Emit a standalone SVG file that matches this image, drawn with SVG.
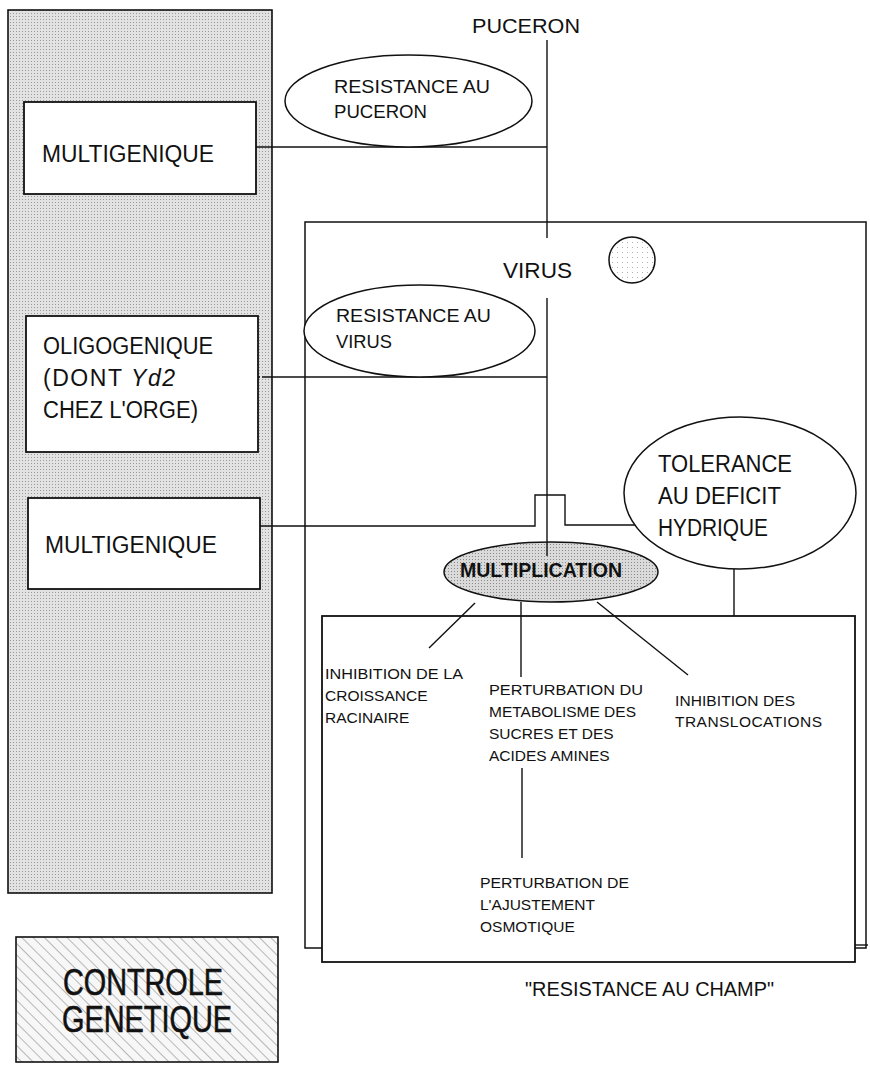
<svg xmlns="http://www.w3.org/2000/svg" width="870" height="1065" viewBox="0 0 870 1065">
<defs>
<pattern id="stipple" width="3" height="3" patternUnits="userSpaceOnUse">
<rect width="3" height="3" fill="#e2e2e2"/>
<rect x="1" y="1" width="1" height="1" fill="#9a9a9a"/>
</pattern>
<pattern id="stipple2" width="3" height="3" patternUnits="userSpaceOnUse">
<rect width="3" height="3" fill="#dadada"/>
<rect x="1" y="1" width="1" height="1" fill="#8a8a8a"/>
</pattern>
<pattern id="dots" width="5" height="5" patternUnits="userSpaceOnUse">
<rect width="5" height="5" fill="#ffffff"/>
<rect x="2" y="2" width="1" height="1" fill="#b0b0b0"/>
</pattern>
<pattern id="hatch" width="8" height="8" patternUnits="userSpaceOnUse" patternTransform="rotate(-45)">
<rect width="8" height="8" fill="#f7f7f7"/>
<line x1="0" y1="0" x2="0" y2="8" stroke="#777" stroke-width="1"/>
</pattern>
</defs>
<style>
text{font-family:"Liberation Sans",Arial,sans-serif;fill:#111}
.box{fill:#fff;stroke:#111;stroke-width:1.8}
.ell{fill:#fff;stroke:#111;stroke-width:1.5}
.ln{fill:none;stroke:#111;stroke-width:1.4}
.big{font-size:23px}
.med{font-size:19px}
.sm{font-size:15.5px}
</style>

<g id="panel-genetique">
<rect x="8" y="10" width="264" height="883" fill="url(#stipple)" stroke="#111" stroke-width="1.6"/>
</g>

<g id="champ-outer">
<rect x="305" y="222" width="561" height="726" fill="#fff" stroke="#111" stroke-width="1.5"/>
</g>
<g id="champ-inner">
<rect x="322" y="616" width="533" height="346" class="box" stroke-width="1.6"/>
</g>

<g id="connectors">
<line class="ln" x1="547" y1="40" x2="547" y2="238"/>
<line class="ln" x1="547" y1="298" x2="547" y2="556"/>
<line class="ln" x1="256" y1="147" x2="547" y2="147"/>
<line class="ln" x1="228" y1="377" x2="262" y2="377" stroke-dasharray="5 4"/>
<line class="ln" x1="262" y1="377" x2="547" y2="377"/>
<polyline class="ln" points="260,526 535,526 535,495 565,495 565,525 636,525"/>
<line class="ln" x1="734" y1="569" x2="734" y2="616"/>
<line class="ln" x1="521" y1="602" x2="521" y2="677"/>
<line class="ln" x1="475" y1="603" x2="429" y2="648" stroke-width="2"/>
<line class="ln" x1="597" y1="602" x2="688" y2="675" stroke-width="2"/>
<line class="ln" x1="522" y1="768" x2="522" y2="858"/>
<line class="ln" x1="855" y1="945" x2="868" y2="945"/>
</g>

<g id="multigenique-1">
<rect x="24" y="102" width="232" height="92" class="box"/>
<text x="42" y="162" class="big" textLength="172" lengthAdjust="spacingAndGlyphs">MULTIGENIQUE</text>
</g>

<g id="oligogenique">
<rect x="26" y="316" width="232" height="136" class="box"/>
<text x="43" y="354" class="big" textLength="170" lengthAdjust="spacingAndGlyphs">OLIGOGENIQUE</text>
<text x="43" y="386" class="big" textLength="132">(DONT <tspan font-style="italic">Yd2</tspan></text>
<text x="43" y="418" class="big" textLength="155" lengthAdjust="spacingAndGlyphs">CHEZ L'ORGE)</text>
</g>

<g id="multigenique-2">
<rect x="28" y="498" width="232" height="91" class="box"/>
<text x="45" y="553" class="big" textLength="172" lengthAdjust="spacingAndGlyphs">MULTIGENIQUE</text>
</g>

<g id="puceron">
<text x="472" y="33" style="font-size:21px" textLength="108" lengthAdjust="spacingAndGlyphs">PUCERON</text>
</g>

<g id="resistance-puceron">
<ellipse cx="408.5" cy="101" rx="123.5" ry="46" class="ell"/>
<text x="334" y="93" class="med" textLength="156" lengthAdjust="spacingAndGlyphs">RESISTANCE AU</text>
<text x="334" y="118" class="med" textLength="93" lengthAdjust="spacingAndGlyphs">PUCERON</text>
</g>

<g id="virus">
<rect x="500" y="252" width="76" height="30" fill="#fff"/>
<text x="503" y="278" style="font-size:22px" textLength="69" lengthAdjust="spacingAndGlyphs">VIRUS</text>
<circle cx="632" cy="260" r="23" fill="url(#dots)" stroke="#111" stroke-width="1.5"/>
</g>

<g id="resistance-virus">
<ellipse cx="419.5" cy="331" rx="115.5" ry="46" class="ell"/>
<text x="336" y="322" class="med" textLength="155" lengthAdjust="spacingAndGlyphs">RESISTANCE AU</text>
<text x="336" y="348" class="med" textLength="56" lengthAdjust="spacingAndGlyphs">VIRUS</text>
</g>

<g id="tolerance">
<ellipse cx="740" cy="493" rx="116" ry="76" class="ell"/>
<text x="658" y="472" class="big" textLength="134" lengthAdjust="spacingAndGlyphs">TOLERANCE</text>
<text x="658" y="504" class="big" textLength="123" lengthAdjust="spacingAndGlyphs">AU DEFICIT</text>
<text x="658" y="536" class="big" textLength="110" lengthAdjust="spacingAndGlyphs">HYDRIQUE</text>
</g>

<g id="multiplication">
<ellipse cx="551" cy="572" rx="107" ry="30" fill="url(#stipple2)" stroke="#111" stroke-width="1.5"/>
<line class="ln" x1="547" y1="542" x2="547" y2="556"/>
<text x="460" y="577" style="font-size:21px;font-weight:bold" textLength="162" lengthAdjust="spacingAndGlyphs">MULTIPLICATION</text>
</g>

<g id="inhibition-croissance">
<text x="325" y="679" class="sm" textLength="138" lengthAdjust="spacingAndGlyphs">INHIBITION DE LA</text>
<text x="325" y="701" class="sm">CROISSANCE</text>
<text x="325" y="723" class="sm">RACINAIRE</text>
</g>

<g id="perturbation-metabolisme">
<text x="489" y="695" class="sm" textLength="154" lengthAdjust="spacingAndGlyphs">PERTURBATION DU</text>
<text x="489" y="717" class="sm">METABOLISME DES</text>
<text x="489" y="739" class="sm">SUCRES ET DES</text>
<text x="489" y="761" class="sm">ACIDES AMINES</text>
</g>

<g id="inhibition-translocations">
<text x="675" y="706" class="sm" textLength="120">INHIBITION DES</text>
<text x="675" y="727" class="sm" textLength="147">TRANSLOCATIONS</text>
</g>

<g id="perturbation-ajustement">
<text x="480" y="888" class="sm" textLength="149" lengthAdjust="spacingAndGlyphs">PERTURBATION DE</text>
<text x="480" y="910" class="sm">L'AJUSTEMENT</text>
<text x="480" y="932" class="sm">OSMOTIQUE</text>
</g>

<g id="resistance-champ">
<text x="525" y="996" style="font-size:20px" textLength="249" lengthAdjust="spacingAndGlyphs">"RESISTANCE AU CHAMP"</text>
</g>

<g id="controle-genetique">
<rect x="16" y="937" width="262" height="125" fill="url(#hatch)" stroke="#111" stroke-width="1.6"/>
<text x="63" y="995" style="font-size:36px;stroke:#111;stroke-width:0.6" textLength="160" lengthAdjust="spacingAndGlyphs">CONTROLE</text>
<text x="62" y="1032" style="font-size:36px;stroke:#111;stroke-width:0.6" textLength="170" lengthAdjust="spacingAndGlyphs">GENETIQUE</text>
</g>
</svg>
